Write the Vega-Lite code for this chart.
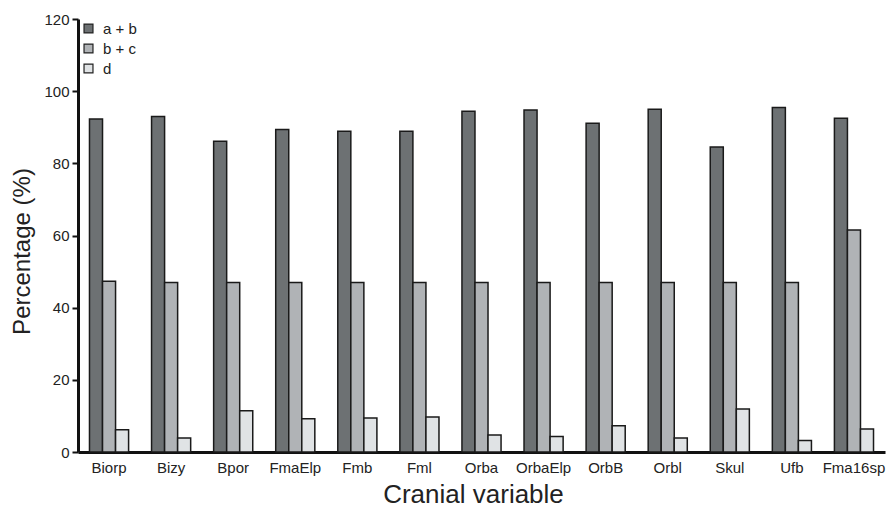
{
  "$schema": "https://vega.github.io/schema/vega-lite/v6.json",
  "autosize": "none",
  "width": 807,
  "height": 433,
  "padding": {"left": 78, "top": 19, "right": 8, "bottom": 59},
  "background": "white",
  "data": {
    "values": [
      {"var": "Biorp", "series": "a + b", "value": 92.3},
      {"var": "Biorp", "series": "b + c", "value": 47.3},
      {"var": "Biorp", "series": "d", "value": 6.2},
      {"var": "Bizy", "series": "a + b", "value": 93.0},
      {"var": "Bizy", "series": "b + c", "value": 47.0},
      {"var": "Bizy", "series": "d", "value": 3.9},
      {"var": "Bpor", "series": "a + b", "value": 86.1},
      {"var": "Bpor", "series": "b + c", "value": 47.0},
      {"var": "Bpor", "series": "d", "value": 11.4},
      {"var": "FmaElp", "series": "a + b", "value": 89.4},
      {"var": "FmaElp", "series": "b + c", "value": 47.0},
      {"var": "FmaElp", "series": "d", "value": 9.2},
      {"var": "Fmb", "series": "a + b", "value": 88.9},
      {"var": "Fmb", "series": "b + c", "value": 47.0},
      {"var": "Fmb", "series": "d", "value": 9.4},
      {"var": "Fml", "series": "a + b", "value": 88.9},
      {"var": "Fml", "series": "b + c", "value": 47.0},
      {"var": "Fml", "series": "d", "value": 9.7},
      {"var": "Orba", "series": "a + b", "value": 94.4},
      {"var": "Orba", "series": "b + c", "value": 47.0},
      {"var": "Orba", "series": "d", "value": 4.7},
      {"var": "OrbaElp", "series": "a + b", "value": 94.8},
      {"var": "OrbaElp", "series": "b + c", "value": 47.0},
      {"var": "OrbaElp", "series": "d", "value": 4.3},
      {"var": "OrbB", "series": "a + b", "value": 91.1},
      {"var": "OrbB", "series": "b + c", "value": 47.0},
      {"var": "OrbB", "series": "d", "value": 7.3},
      {"var": "Orbl", "series": "a + b", "value": 95.0},
      {"var": "Orbl", "series": "b + c", "value": 47.0},
      {"var": "Orbl", "series": "d", "value": 3.9},
      {"var": "Skul", "series": "a + b", "value": 84.5},
      {"var": "Skul", "series": "b + c", "value": 47.0},
      {"var": "Skul", "series": "d", "value": 11.9},
      {"var": "Ufb", "series": "a + b", "value": 95.5},
      {"var": "Ufb", "series": "b + c", "value": 47.0},
      {"var": "Ufb", "series": "d", "value": 3.2},
      {"var": "Fma16sp", "series": "a + b", "value": 92.5},
      {"var": "Fma16sp", "series": "b + c", "value": 61.5},
      {"var": "Fma16sp", "series": "d", "value": 6.4}
    ]
  },
  "mark": {"type": "bar", "stroke": "#1a1a1a", "strokeWidth": 1.5},
  "encoding": {
    "x": {
      "field": "var",
      "type": "nominal",
      "sort": null,
      "scale": {"paddingInner": 0.37, "paddingOuter": 0.185},
      "axis": {
        "title": "Cranial variable",
        "titleFontSize": 26,
        "titleFont": "Liberation Sans",
        "titleFontWeight": "normal",
        "titleColor": "#222",
        "titlePadding": 6,
        "titleX": 395,
        "labelAngle": 0,
        "labelFontSize": 15,
        "labelFont": "Liberation Sans",
        "labelColor": "#222",
        "labelPadding": 8,
        "ticks": false,
        "domainColor": "#111",
        "domainWidth": 3
      }
    },
    "xOffset": {"field": "series", "type": "nominal", "sort": ["a + b", "b + c", "d"]},
    "y": {
      "field": "value",
      "type": "quantitative",
      "scale": {"domain": [0, 120], "nice": false},
      "axis": {
        "title": "Percentage (%)",
        "titleFontSize": 24,
        "titleFont": "Liberation Sans",
        "titleFontWeight": "normal",
        "titleColor": "#222",
        "titlePadding": 9,
        "titleY": 232,
        "values": [0, 20, 40, 60, 80, 100, 120],
        "labelFontSize": 15,
        "labelFont": "Liberation Sans",
        "labelColor": "#222",
        "labelPadding": 3,
        "grid": false,
        "tickSize": 6,
        "tickWidth": 2,
        "tickColor": "#111",
        "domainColor": "#111",
        "domainWidth": 3
      }
    },
    "color": {
      "field": "series",
      "type": "nominal",
      "scale": {"domain": ["a + b", "b + c", "d"], "range": ["#6d7173", "#b0b3b6", "#e0e3e5"]},
      "legend": {
        "title": null,
        "orient": "none",
        "legendX": 3,
        "legendY": 2,
        "symbolType": "square",
        "symbolSize": 80,
        "symbolStrokeColor": "#222",
        "symbolStrokeWidth": 1.2,
        "labelFontSize": 15,
        "labelFont": "Liberation Sans",
        "labelColor": "#222",
        "labelOffset": 7,
        "rowPadding": 4
      }
    }
  },
  "config": {"view": {"stroke": null}}
}
